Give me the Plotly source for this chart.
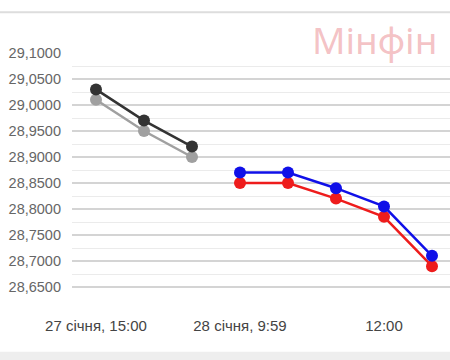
import plotly.graph_objects as go

# positions of observations (index along time axis)
x_prev = [0, 1, 2]
x_curr = [3, 4, 5, 6, 7]
black_vals = [29.03, 28.97, 28.92]
gray_vals = [29.01, 28.95, 28.90]
blue_vals = [28.87, 28.87, 28.84, 28.805, 28.71]
red_vals = [28.85, 28.85, 28.82, 28.785, 28.69]
tick_pos = [0, 3, 6]
tick_labels = ["27 січня, 15:00", "28 січня, 9:59", "12:00"]

fig = go.Figure()

def add(xs, ys, color):
    fig.add_trace(go.Scatter(x=xs, y=ys, mode="lines+markers",
                             line=dict(color=color, width=2.5),
                             marker=dict(color=color, size=12),
                             showlegend=False, hoverinfo="skip"))

add(x_prev, gray_vals, "#a0a0a0")
add(x_prev, black_vals, "#333333")
add(x_curr, red_vals, "#ee1c1c")
add(x_curr, blue_vals, "#1010e8")

fig.update_layout(
    width=450, height=360,
    margin=dict(l=72, r=0, t=53, b=60),
    paper_bgcolor="white", plot_bgcolor="white",
    separators=", ",
    font=dict(family="Liberation Sans, Arial, sans-serif", size=14, color="#555555"),
    xaxis=dict(range=[-0.5, 7.375], tickvals=tick_pos, ticktext=tick_labels,
               showgrid=False, zeroline=False, showline=False, ticks="",
               tickfont=dict(size=15, color="#444444"), ticklabelstandoff=15),
    yaxis=dict(range=[28.625, 29.1], dtick=0.05, tick0=28.65, tickformat=".4f",
               showgrid=True, gridcolor="#d4d4d4", gridwidth=1.5, zeroline=False,
               showline=False, ticks="", tickfont=dict(size=14.5, color="#666666"),
               ticklabelstandoff=10,
               minor=dict(dtick=0.025, tick0=28.625, showgrid=True, gridcolor="#ebebeb", gridwidth=1)),
    shapes=[
        dict(type="line", xref="paper", yref="paper", x0=-0.2, x1=1, y0=1.165, y1=1.165,
             line=dict(color="#dddddd", width=2)),
        dict(type="rect", xref="paper", yref="paper", x0=-0.2, x1=1, y0=-0.21, y1=-0.25,
             fillcolor="#eeeeee", line=dict(width=0)),
    ],
    annotations=[dict(text="Мінфін", xref="paper", yref="paper", x=0.97, y=0.945,
                      xanchor="right", yanchor="bottom", showarrow=False,
                      font=dict(family="Noto Sans, sans-serif", size=37, color="rgba(230,120,125,0.45)"))],
)

fig.write_html("out.html")
